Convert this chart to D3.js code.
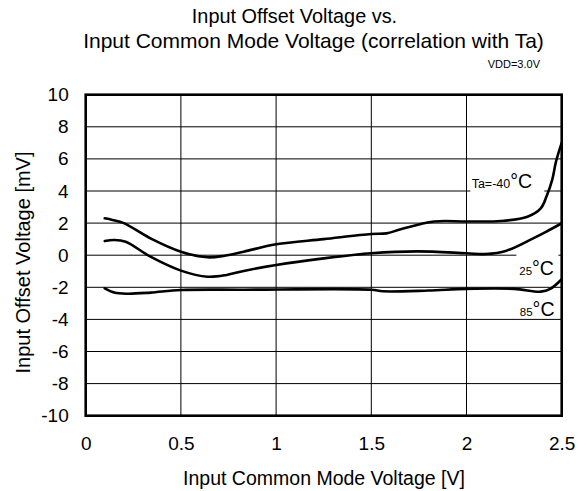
<!DOCTYPE html>
<html>
<head>
<meta charset="utf-8">
<script src="https://cdn.jsdelivr.net/npm/d3@7"></script>
<style>
  html, body { margin: 0; padding: 0; background: #fff; }
  svg { display: block; font-family: Arial, "Liberation Sans", sans-serif; }
</style>
</head>
<body>
<svg id="chart" width="587" height="491"></svg>
<script>
// ---- data ----
const xTicks = [0, 0.5, 1, 1.5, 2, 2.5];
const xTickLabels = ["0", "0.5", "1", "1.5", "2", "2.5"];
const yTicks = [-10, -8, -6, -4, -2, 0, 2, 4, 6, 8, 10];
const yTickLabels = ["-10", "-8", "-6", "-4", "-2", "0", "2", "4", "6", "8", "10"];

const ta40X = [0.1, 0.14, 0.2, 0.34, 0.5, 0.64, 0.73, 0.83, 1.0, 1.25, 1.5, 1.58, 1.65, 1.83, 2.0, 2.18, 2.32, 2.39, 2.42, 2.45, 2.47, 2.5];
const ta40Y = [2.3, 2.2, 2.0, 1.05, 0.22, -0.13, -0.03, 0.22, 0.68, 1.0, 1.32, 1.36, 1.6, 2.1, 2.1, 2.13, 2.4, 2.92, 3.65, 4.69, 5.83, 7.0];

const ta25X = [0.1, 0.15, 0.21, 0.34, 0.5, 0.64, 0.74, 0.83, 1.0, 1.25, 1.5, 1.74, 2.0, 2.1, 2.21, 2.35, 2.42, 2.5];
const ta25Y = [0.88, 0.95, 0.84, -0.09, -0.96, -1.34, -1.23, -0.98, -0.61, -0.2, 0.12, 0.24, 0.12, 0.07, 0.28, 1.05, 1.47, 1.99];

const ta85X = [0.1, 0.15, 0.22, 0.34, 0.5, 0.83, 1.5, 1.56, 1.8, 2.0, 2.25, 2.39, 2.44, 2.5];
const ta85Y = [-2.06, -2.33, -2.4, -2.33, -2.17, -2.15, -2.15, -2.25, -2.2, -2.1, -2.1, -2.27, -2.1, -1.5];

const seriesLabels = ["Ta=-40", "25", "85"];

// ---- layout ----
const svg = d3.select("#chart");
const pL = 85.7, pR = 561.7, pT = 94.7, pB = 415.7;
const FONT = "Arial, 'Liberation Sans', sans-serif";

const x = d3.scaleLinear().domain([0, 2.5]).range([pL, pR]);
const y = d3.scaleLinear().domain([-10, 10]).range([pB, pT]);

// titles
svg.append("text").attr("x", 294.5).attr("y", 23.3).attr("text-anchor", "middle")
  .attr("font-size", 19.9).text("Input Offset Voltage vs.");
svg.append("text").attr("x", 313.5).attr("y", 48.3).attr("text-anchor", "middle")
  .attr("font-size", 21).text("Input Common Mode Voltage (correlation with Ta)");
svg.append("text").attr("x", 540).attr("y", 67.7).attr("text-anchor", "end")
  .attr("font-size", 11).text("VDD=3.0V");

// grid
const g = svg.append("g");
g.selectAll("line.vg").data(xTicks.slice(1, -1)).join("line")
  .attr("x1", d => x(d)).attr("x2", d => x(d)).attr("y1", pT).attr("y2", pB)
  .attr("stroke", "#000").attr("stroke-width", 1);
g.selectAll("line.hg").data(yTicks.slice(1, -1)).join("line")
  .attr("x1", pL).attr("x2", pR).attr("y1", d => y(d)).attr("y2", d => y(d))
  .attr("stroke", "#000").attr("stroke-width", 1);

// axes (labels only)
const xAxis = d3.axisBottom(x).tickValues(xTicks).tickFormat((d, i) => xTickLabels[i]).tickSize(0).tickPadding(21);
const xg = svg.append("g").attr("transform", `translate(0,${pB})`).call(xAxis);
xg.select(".domain").remove();
xg.selectAll("text").attr("font-size", 19).attr("font-family", FONT).attr("fill", "#000");

const yAxis = d3.axisLeft(y).tickValues(yTicks).tickFormat((d, i) => yTickLabels[i]).tickSize(0).tickPadding(17);
const yg = svg.append("g").attr("transform", `translate(${pL},0)`).call(yAxis);
yg.select(".domain").remove();
yg.selectAll("text").attr("font-size", 19).attr("font-family", FONT).attr("fill", "#000");

svg.append("text").attr("x", 324).attr("y", 485).attr("text-anchor", "middle")
  .attr("font-size", 19.5).text("Input Common Mode Voltage [V]");
svg.append("text").attr("transform", `translate(30,262.5) rotate(-90)`)
  .attr("text-anchor", "middle").attr("font-size", 20).text("Input Offset Voltage [mV]");

// label backgrounds
const bg = svg.append("g");
bg.append("rect").attr("x", x(2.02)).attr("y", y(5.0)).attr("width", 74).attr("height", 18).attr("fill", "#fff");
bg.append("rect").attr("x", x(2.262)).attr("y", y(0.1)).attr("width", 42).attr("height", 24).attr("fill", "#fff");

// curves
const line = d3.line().x(d => x(d[0])).y(d => y(d[1])).curve(d3.curveCatmullRom.alpha(0.5));
[[ta40X, ta40Y], [ta25X, ta25Y], [ta85X, ta85Y]].forEach(([xs, ys]) => {
  svg.append("path").datum(xs.map((v, i) => [v, ys[i]]))
    .attr("d", line).attr("fill", "none").attr("stroke", "#000").attr("stroke-width", 2.6)
    .attr("stroke-linejoin", "round").attr("stroke-linecap", "round");
});

// frame
svg.append("rect").attr("x", pL).attr("y", pT).attr("width", pR - pL).attr("height", pB - pT)
  .attr("fill", "none").attr("stroke", "#000").attr("stroke-width", 2.6);

// series labels
function degLabel(vx, vy, txt, small) {
  const t = svg.append("text").attr("x", x(vx)).attr("y", y(vy));
  t.append("tspan").attr("font-size", small).text(txt);
  t.append("tspan").attr("font-size", 19.5).text("°C");
}
degLabel(2.027, 4.17, seriesLabels[0], 12.5);
degLabel(2.277, -1.23, seriesLabels[1], 11.5);
degLabel(2.28, -3.77, seriesLabels[2], 11.5);
</script>
</body>
</html>
